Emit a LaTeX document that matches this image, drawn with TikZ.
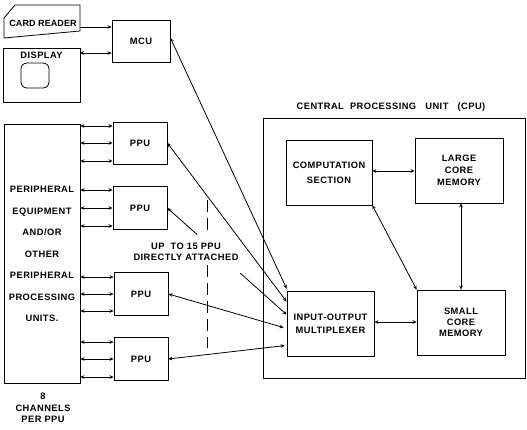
\documentclass[tikz,border=0pt]{standalone}
\usepackage{fontspec}
\setmainfont{Liberation Sans}[LetterSpace=5]
\usetikzlibrary{arrows.meta,calc}
\begin{document}
\begin{tikzpicture}[x=1pt,y=-1pt,line width=0.8pt,
  lbl/.style={align=center,inner sep=0pt},
  tip/.style={{Stealth[length=4pt,width=3.6pt]}-{Stealth[length=4pt,width=3.6pt]}},
  rtip/.style={-{Stealth[length=4pt,width=3.6pt]}},
  ltip/.style={{Stealth[length=4pt,width=3.6pt]}-}]
\useasboundingbox (0,0) rectangle (527,430);
\tikzset{every node/.append style={font=\fontsize{9.3}{12}\selectfont\bfseries}}
% card reader
\draw (4,38) -- (4,18) -- (15,5) -- (80,5) -- (80,31) -- cycle;
\node[lbl,font=\fontsize{9}{12}\selectfont\bfseries\addfontfeature{LetterSpace=1}] (card) at (43,23) {CARD READER};
\coordinate (cardr) at (80,27);
% display
\node[draw,minimum width=77pt,minimum height=54pt,inner sep=0pt] (disp) at (41.5,75) {};
\node[lbl] (disptxt) at (41.5,55) {DISPLAY};
\node[draw,rounded corners=6pt,minimum width=28pt,minimum height=25pt,inner sep=0pt] (screen) at (35,75.5) {};
% MCU
\node[draw,minimum width=58pt,minimum height=42pt,inner sep=0pt] (mcu) at (141,41) {MCU};
\draw[rtip] (cardr) -- (cardr -| mcu.west);
\coordinate (dispy) at (80,53);
\draw[tip] (dispy) -- (dispy -| mcu.west);
% peripheral
\node[draw,minimum width=76pt,minimum height=259pt,inner sep=0pt] (pe) at (42,253.5) {};
\node[lbl,text width=76pt,font=\fontsize{9.3}{21.5}\selectfont\bfseries] (petxt) at (42,254) {PERIPHERAL\\EQUIPMENT\\AND/OR\\OTHER\\PERIPHERAL\\PROCESSING\\UNITS.};
% PPUs
\node[draw,minimum width=54pt,minimum height=42pt,inner sep=0pt] (ppu1) at (140,143) {PPU};
\node[draw,minimum width=54pt,minimum height=43pt,inner sep=0pt] (ppu2) at (140,208) {PPU};
\node[draw,minimum width=54pt,minimum height=43pt,inner sep=0pt] (ppu3) at (141,294) {PPU};
\node[draw,minimum width=54pt,minimum height=43pt,inner sep=0pt] (ppu4) at (141,359) {PPU};
\foreach \p/\a/\b/\c in {ppu1/-17/0/18, ppu2/-18/0/18, ppu3/-17/0/17, ppu4/-17/0/18}{
  \foreach \o in {\a,\b,\c}{
    \coordinate (ch) at ($(\p.west)+(0,\o)$);
    \draw[tip] (pe.east |- ch) -- (ch);
  }
}
\node[lbl,font=\fontsize{9.3}{11.5}\selectfont\bfseries] (chan) at (43,408) {8\\CHANNELS\\PER PPU};
% CPU
\node[lbl] (cputitle) at (391,107) {CENTRAL\ \ PROCESSING\ \ \ UNIT\ \ \ (CPU)};
\draw (263,118) rectangle (525,378);
\node[draw,minimum width=86pt,minimum height=65pt,inner sep=0pt,align=center,font=\fontsize{9.3}{15}\selectfont\bfseries] (comp) at (329,172.5) {COMPUTATION\\SECTION};
\node[draw,minimum width=88pt,minimum height=65pt,inner sep=0pt,align=center,font=\fontsize{9.3}{12}\selectfont\bfseries] (lcm) at (459,170.5) {LARGE\\CORE\\MEMORY};
\node[draw,minimum width=88pt,minimum height=65pt,inner sep=0pt,align=center,font=\fontsize{9.3}{11}\selectfont\bfseries] (scm) at (461,322.5) {SMALL\\CORE\\MEMORY};
\node[draw,minimum width=87pt,minimum height=65pt,inner sep=0pt,align=center,font=\fontsize{9.3}{13}\selectfont\bfseries] (iom) at (330.5,323.5) {INPUT-OUTPUT\\MULTIPLEXER};
\draw[tip] (comp.east |- 0,171) -- (lcm.west |- 0,171);
\draw[tip] (iom.east |- 0,322) -- (scm.west |- 0,322);
\draw[tip] (lcm.south -| 461,0) -- (scm.north -| 461,0);
\draw[tip] (comp.south east) -- (scm.north west);
% lines to IOM
\draw[tip] ($(mcu.east)+(0,-3)$) -- ($(iom.north west)+(0,-2)$);
\draw[tip] (ppu1.east) -- ($(iom.north west)+(0,11)$);
\coordinate (i2) at ($(iom.north west)+(0,24)$);
\draw[ltip] (ppu2.east) -- ($(ppu2.east)!0.25!(i2)$);
\draw[rtip] ($(ppu2.east)!0.61!(i2)$) -- (i2);
\draw[tip] (ppu3.east) -- ($(iom.north west)+(-3,37)$);
\draw[tip] (ppu4.east) -- ($(iom.north west)+(-2,55)$);
% label
\node[lbl,font=\fontsize{9.3}{10.5}\selectfont\bfseries] (upto) at (186,252) {UP\ \ TO\ 15\ PPU\\DIRECTLY ATTACHED};
\draw[dash pattern=on 12pt off 6pt] (207,200) -- (207,234);
\draw[dash pattern=on 12pt off 6pt] (207,265) -- (207,348);
\end{tikzpicture}
\end{document}
